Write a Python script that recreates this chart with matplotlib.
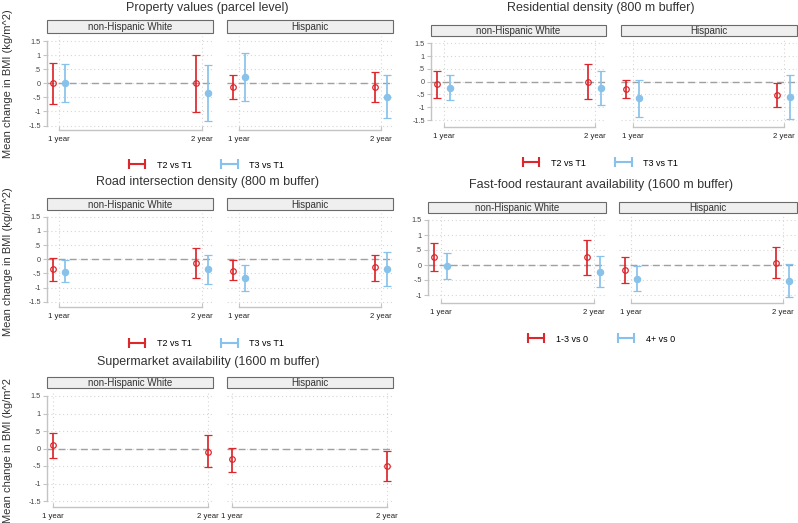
import matplotlib
matplotlib.use("Agg")
import matplotlib.pyplot as plt
import numpy as np
from matplotlib.lines import Line2D
from matplotlib.patches import Rectangle

plt.rcParams["font.family"] = ["Liberation Sans", "DejaVu Sans"]

W, H = 798, 523
RED = "#dc282d"
BLUE = "#88c2ea"
TXT = "#333333"

groups = ["non-Hispanic White", "Hispanic"]
years = ["1 year", "2 year"]
ytick_vals = [-1.5, -1, -0.5, 0, 0.5, 1, 1.5]
ytick_labels = ["-1.5", "-1", "-.5", "0", ".5", "1", "1.5"]
ylabel = "Mean change in BMI (kg/m^2)"

# values are [group][year]: group 0 = non-Hispanic White, 1 = Hispanic
prop_t2_est = [[0.00, 0.00], [-0.12, -0.15]]
prop_t2_lo = [[-0.72, -1.01], [-0.55, -0.68]]
prop_t2_hi = [[0.71, 1.02], [0.30, 0.40]]
prop_t3_est = [[0.01, -0.36], [0.23, -0.48]]
prop_t3_lo = [[-0.67, -1.33], [-0.62, -1.25]]
prop_t3_hi = [[0.70, 0.64], [1.09, 0.31]]

res_t2_est = [[-0.10, 0.00], [-0.29, -0.52]]
res_t2_lo = [[-0.63, -0.68], [-0.64, -1.00]]
res_t2_hi = [[0.42, 0.70], [0.08, -0.05]]
res_t3_est = [[-0.23, -0.23], [-0.65, -0.59]]
res_t3_lo = [[-0.72, -0.90], [-1.37, -1.46]]
res_t3_hi = [[0.26, 0.43], [0.08, 0.27]]

road_t2_est = [[-0.36, -0.13], [-0.40, -0.29]]
road_t2_lo = [[-0.78, -0.65], [-0.74, -0.76]]
road_t2_hi = [[0.05, 0.40], [-0.04, 0.16]]
road_t3_est = [[-0.45, -0.36], [-0.67, -0.36]]
road_t3_lo = [[-0.82, -0.87], [-1.12, -0.96]]
road_t3_hi = [[-0.04, 0.14], [-0.21, 0.25]]

ff_13_est = [[0.27, 0.26], [-0.18, 0.08]]
ff_13_lo = [[-0.20, -0.33], [-0.61, -0.44]]
ff_13_hi = [[0.73, 0.84], [0.26, 0.61]]
ff_4p_est = [[-0.04, -0.22], [-0.46, -0.53]]
ff_4p_lo = [[-0.47, -0.73], [-0.86, -1.08]]
ff_4p_hi = [[0.39, 0.31], [-0.03, 0.02]]

sup_est = [[0.09, -0.09], [-0.31, -0.50]]
sup_lo = [[-0.28, -0.54], [-0.66, -0.94]]
sup_hi = [[0.44, 0.38], [0.02, -0.06]]


def fx(x):
    return x / W


def fy(y):
    return 1 - y / H


def draw_panel(fig, title, title_xy, strip_y, facets, yref, ymin_tick,
               ax_top, ax_bottom, series, legend_xy=None):
    fig.text(fx(title_xy[0]), fy(title_xy[1]), title, ha="center", va="center",
             fontsize=9, color=TXT)
    yt = [v for v in ytick_vals if v >= ymin_tick]
    yl = [l for v, l in zip(ytick_vals, ytick_labels) if v >= ymin_tick]
    for g, (L, R, p1, p2) in enumerate(facets):
        ax = fig.add_axes([fx(L), fy(ax_bottom), (R - L) / W, (ax_bottom - ax_top) / H])
        span = p2 - p1
        ax.set_xlim(1 + (L - p1) / span, 1 + (R - p1) / span)
        a, ya, b, yb = yref
        unit = (yb - ya) / (a - b)
        ax.set_ylim(b - (ax_bottom - yb) / unit, a + (ya - ax_top) / unit)
        ax.set_facecolor("none")
        for s in ["top", "right"]:
            ax.spines[s].set_visible(False)
        ax.spines["bottom"].set_bounds(1, 2)
        ax.spines["bottom"].set_color("#c4c4c4")
        ax.spines["bottom"].set_linewidth(1.0)
        ax.set_xticks([1, 2])
        ax.set_xticklabels(years)
        ax.tick_params(axis="x", direction="in", length=3, color="#c4c4c4",
                       labelsize=5.6, labelcolor="#222222", pad=4.5)
        ax.set_yticks(yt)
        if g == 0:
            ax.spines["left"].set_bounds(yt[0], yt[-1])
            ax.spines["left"].set_color("#c4c4c4")
            ax.spines["left"].set_linewidth(1.0)
            ax.set_yticklabels(yl)
            ax.tick_params(axis="y", direction="out", length=3, color="#c4c4c4",
                           labelsize=5.2, labelcolor="#444444", pad=1.5)
        else:
            ax.spines["left"].set_visible(False)
            ax.tick_params(axis="y", length=0, labelleft=False)
        ax.grid(True, color="#d6d6d6", linestyle=(0, (1, 2.5)), linewidth=0.8)
        ax.set_axisbelow(True)
        ax.axhline(0, color="#a0a0a0", linestyle=(0, (5, 3)), linewidth=1.0, zorder=1)
        for est, lo, hi, color, hollow, off in series:
            e = np.array(est[g])
            x = np.array([1, 2]) + off
            yerr = [e - np.array(lo[g]), np.array(hi[g]) - e]
            ax.errorbar(x, e, yerr=yerr, fmt="o", color=color, ecolor=color,
                        elinewidth=1.25, capsize=3.0, capthick=1.25,
                        ms=4.0 if hollow else 4.5,
                        mfc="none" if hollow else color, mec=color,
                        mew=0.9, zorder=3)
        fig.add_artist(Rectangle((fx(L), fy(strip_y[1])), (R - L) / W,
                                 (strip_y[1] - strip_y[0]) / H,
                                 transform=fig.transFigure, facecolor="#efefef",
                                 edgecolor="#6a6a6a", linewidth=0.8))
        fig.text(fx((L + R) / 2), fy((strip_y[0] + strip_y[1]) / 2 + 0.5), groups[g],
                 ha="center", va="center", fontsize=7, color=TXT)
    if legend_xy is not None:
        handles = [Line2D([], [], color=s[3], lw=1.5, marker="|", ms=7, mew=1.5)
                   for s in series]
        fig.legend(handles, legend_xy[2], loc="center",
                   bbox_to_anchor=(fx(legend_xy[0]), fy(legend_xy[1])),
                   ncol=2, frameon=False, numpoints=2, fontsize=6.5,
                   handlelength=2.4, handletextpad=1.0, columnspacing=3.0)


fig = plt.figure(figsize=(W / 100, H / 100), dpi=100)

OFF = 0.042
left_facets = [(47, 213, 59, 202), (227, 393, 239, 381)]

draw_panel(fig, "Property values (parcel level)", (207, 8), (20, 33), left_facets,
           (1.5, 41, -1.5, 125.5), -1.5, 36, 130,
           [(prop_t2_est, prop_t2_lo, prop_t2_hi, RED, True, -OFF),
            (prop_t3_est, prop_t3_lo, prop_t3_hi, BLUE, False, OFF)],
           (205, 165, ["T2 vs T1", "T3 vs T1"]))

draw_panel(fig, "Residential density (800 m buffer)", (601, 8), (25, 36),
           [(431, 606, 443.5, 594.5), (621, 797, 632.5, 783.5)],
           (1.5, 43.3, -1.5, 120), -1.5, 39, 127,
           [(res_t2_est, res_t2_lo, res_t2_hi, RED, True, -OFF),
            (res_t3_est, res_t3_lo, res_t3_hi, BLUE, False, OFF)],
           (599, 163, ["T2 vs T1", "T3 vs T1"]))

draw_panel(fig, "Road intersection density (800 m buffer)", (208, 182), (198, 210),
           left_facets, (1.5, 216.7, -1.5, 301.7), -1.5, 213, 306.5,
           [(road_t2_est, road_t2_lo, road_t2_hi, RED, True, -OFF),
            (road_t3_est, road_t3_lo, road_t3_hi, BLUE, False, OFF)],
           (205, 344, ["T2 vs T1", "T3 vs T1"]))

draw_panel(fig, "Fast-food restaurant availability (1600 m buffer)", (601, 185), (202, 213),
           [(428, 606, 440.5, 593.5), (619, 797, 631, 782.5)],
           (1.5, 220, -1, 295), -1, 216, 303,
           [(ff_13_est, ff_13_lo, ff_13_hi, RED, True, -OFF),
            (ff_4p_est, ff_4p_lo, ff_4p_hi, BLUE, False, OFF)],
           (600, 339, ["1-3 vs 0", "4+ vs 0"]))

draw_panel(fig, "Supermarket availability (1600 m buffer)", (208, 362), (377, 388),
           [(47, 213, 53, 208), (227, 393, 232, 387)],
           (1.5, 396, -1.5, 501), -1.5, 391, 507,
           [(sup_est, sup_lo, sup_hi, RED, True, 0.0)])

fig.text(fx(8), fy(84), ylabel, rotation=90, ha="center", va="center",
         fontsize=8, color=TXT)
fig.text(fx(8), fy(262), ylabel, rotation=90, ha="center", va="center",
         fontsize=8, color=TXT)
fig.text(fx(8), fy(523), ylabel[:-1], rotation=90, ha="center", va="bottom",
         fontsize=8, color=TXT)

fig.savefig("out.png", dpi=100)
